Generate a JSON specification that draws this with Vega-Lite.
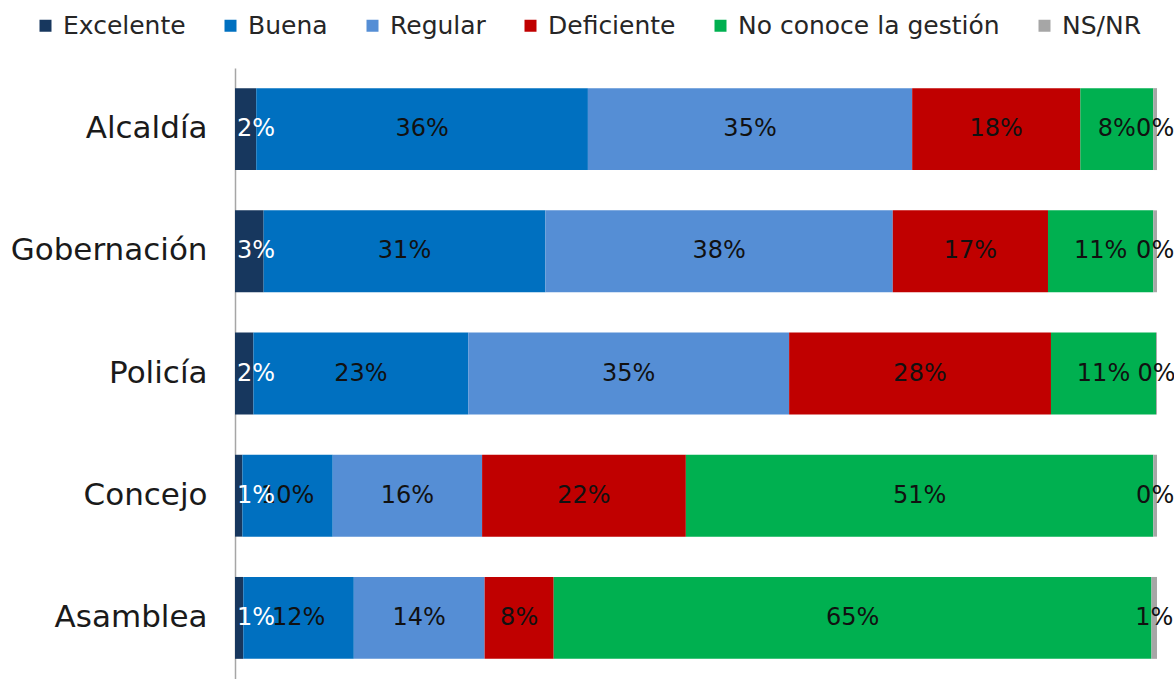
{
  "$schema": "https://vega.github.io/schema/vega-lite/v6.json",
  "autosize": {"type": "none"},
  "padding": {"left": 235, "top": 68, "right": 17, "bottom": 0},
  "width": 922,
  "height": 611,
  "background": "white",
  "config": {"view": {"stroke": null}, "font": "DejaVu Sans"},
  "data": {
    "values": [
      {"entidad": "Alcaldía", "categoria": "Excelente", "orden": 1, "pct": 0.023},
      {"entidad": "Alcaldía", "categoria": "Buena", "orden": 2, "pct": 0.359},
      {"entidad": "Alcaldía", "categoria": "Regular", "orden": 3, "pct": 0.351},
      {"entidad": "Alcaldía", "categoria": "Deficiente", "orden": 4, "pct": 0.182},
      {"entidad": "Alcaldía", "categoria": "No conoce la gestión", "orden": 5, "pct": 0.079},
      {"entidad": "Alcaldía", "categoria": "NS/NR", "orden": 6, "pct": 0.004},
      {"entidad": "Gobernación", "categoria": "Excelente", "orden": 1, "pct": 0.031},
      {"entidad": "Gobernación", "categoria": "Buena", "orden": 2, "pct": 0.305},
      {"entidad": "Gobernación", "categoria": "Regular", "orden": 3, "pct": 0.376},
      {"entidad": "Gobernación", "categoria": "Deficiente", "orden": 4, "pct": 0.168},
      {"entidad": "Gobernación", "categoria": "No conoce la gestión", "orden": 5, "pct": 0.114},
      {"entidad": "Gobernación", "categoria": "NS/NR", "orden": 6, "pct": 0.004},
      {"entidad": "Policía", "categoria": "Excelente", "orden": 1, "pct": 0.020},
      {"entidad": "Policía", "categoria": "Buena", "orden": 2, "pct": 0.233},
      {"entidad": "Policía", "categoria": "Regular", "orden": 3, "pct": 0.348},
      {"entidad": "Policía", "categoria": "Deficiente", "orden": 4, "pct": 0.284},
      {"entidad": "Policía", "categoria": "No conoce la gestión", "orden": 5, "pct": 0.114},
      {"entidad": "Policía", "categoria": "NS/NR", "orden": 6, "pct": 0.001},
      {"entidad": "Concejo", "categoria": "Excelente", "orden": 1, "pct": 0.008},
      {"entidad": "Concejo", "categoria": "Buena", "orden": 2, "pct": 0.098},
      {"entidad": "Concejo", "categoria": "Regular", "orden": 3, "pct": 0.162},
      {"entidad": "Concejo", "categoria": "Deficiente", "orden": 4, "pct": 0.221},
      {"entidad": "Concejo", "categoria": "No conoce la gestión", "orden": 5, "pct": 0.507},
      {"entidad": "Concejo", "categoria": "NS/NR", "orden": 6, "pct": 0.004},
      {"entidad": "Asamblea", "categoria": "Excelente", "orden": 1, "pct": 0.009},
      {"entidad": "Asamblea", "categoria": "Buena", "orden": 2, "pct": 0.120},
      {"entidad": "Asamblea", "categoria": "Regular", "orden": 3, "pct": 0.142},
      {"entidad": "Asamblea", "categoria": "Deficiente", "orden": 4, "pct": 0.075},
      {"entidad": "Asamblea", "categoria": "No conoce la gestión", "orden": 5, "pct": 0.649},
      {"entidad": "Asamblea", "categoria": "NS/NR", "orden": 6, "pct": 0.006}
    ]
  },
  "transform": [
    {"stack": "pct", "groupby": ["entidad"], "sort": [{"field": "orden", "order": "ascending"}], "offset": "normalize", "as": ["v0", "v1"]},
    {"calculate": "(datum.v0 + datum.v1) / 2", "as": "mid"}
  ],
  "encoding": {
    "y": {
      "field": "entidad", "type": "nominal", "sort": null,
      "scale": {"paddingInner": 0.33, "paddingOuter": 0.165},
      "axis": {
        "title": null, "ticks": false, "grid": false,
        "domainColor": "#A6A6A6", "domainWidth": 1.5,
        "labelFontSize": 31, "labelColor": "#1a1a1a", "labelPadding": 28, "labelFont": "DejaVu Sans", "labelLimit": 300
      }
    }
  },
  "layer": [
    {
      "mark": {"type": "bar", "strokeWidth": 0},
      "encoding": {
        "x": {"field": "v0", "type": "quantitative", "scale": {"domain": [0, 1], "nice": false, "zero": true}, "axis": null},
        "x2": {"field": "v1"},
        "color": {
          "field": "categoria", "type": "nominal",
          "scale": {
            "domain": ["Excelente", "Buena", "Regular", "Deficiente", "No conoce la gestión", "NS/NR"],
            "range": ["#17375E", "#0070C0", "#558ED5", "#C00000", "#00B050", "#A6A6A6"]
          },
          "legend": {
            "title": null, "orient": "none", "direction": "horizontal", "columns": 6,
            "legendX": -202, "legendY": -55, "padding": 0,
            "symbolType": "square", "symbolSize": 144, "symbolStrokeWidth": 0,
            "labelFontSize": 25, "labelColor": "#262626", "labelOffset": 5, "labelFont": "DejaVu Sans",
            "columnPadding": 32, "labelLimit": 400
          }
        },
        "order": {"field": "orden"}
      }
    },
    {
      "transform": [{"filter": "datum.categoria !== 'Excelente'"}],
      "mark": {"type": "text", "fontSize": 24, "align": "center", "baseline": "middle", "font": "DejaVu Sans", "color": "#111111"},
      "encoding": {
        "x": {"field": "mid", "type": "quantitative"},
        "text": {"field": "pct", "type": "quantitative", "format": ".0%"}
      }
    },
    {
      "transform": [{"filter": "datum.categoria === 'Excelente'"}],
      "mark": {"type": "text", "fontSize": 24, "align": "left", "baseline": "middle", "dx": 2, "font": "DejaVu Sans", "color": "#ffffff"},
      "encoding": {
        "x": {"field": "v0", "type": "quantitative"},
        "text": {"field": "pct", "type": "quantitative", "format": ".0%"}
      }
    }
  ]
}
